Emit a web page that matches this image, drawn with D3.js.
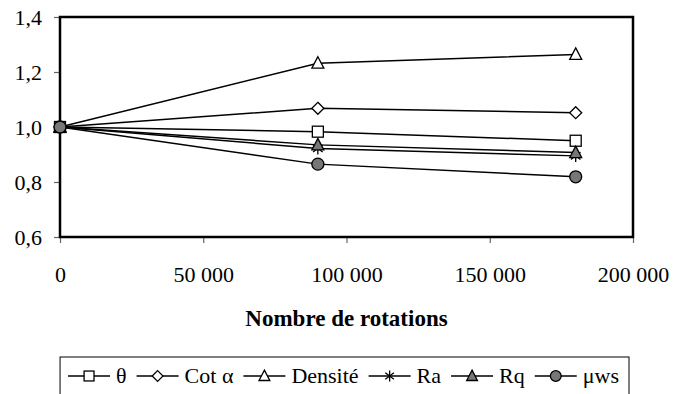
<!DOCTYPE html>
<html><head><meta charset="utf-8">
<script src="https://cdn.jsdelivr.net/npm/d3@7"></script>
<style>body{margin:0;background:#fff}svg{display:block}</style>
</head><body><svg id="c" width="675" height="394"></svg>
<script>
const xValues = [0, 90000, 180000];
const seriesNames = ["θ", "Cot α", "Densité", "Ra", "Rq", "μws"];
const theta   = [1.0, 0.983, 0.950];
const cotA    = [1.0, 1.068, 1.052];
const densite = [1.0, 1.232, 1.264];
const ra      = [1.0, 0.922, 0.895];
const rq      = [1.0, 0.935, 0.907];
const muws    = [1.0, 0.865, 0.819];
const xTicks = [0, 50000, 100000, 150000, 200000];
const yTicks = [0.6, 0.8, 1.0, 1.2, 1.4];
const xTitle = "Nombre de rotations";

const FONT = "Liberation Serif";

const series = [
  {name: seriesNames[0], values: theta, marker: "square"},
  {name: seriesNames[1], values: cotA, marker: "diamond"},
  {name: seriesNames[2], values: densite, marker: "triangle"},
  {name: seriesNames[3], values: ra, marker: "star"},
  {name: seriesNames[4], values: rq, marker: "triangleFill"},
  {name: seriesNames[5], values: muws, marker: "circle"}
];

const L = 60, R = 633, T = 17, B = 237;
const svg = d3.select("#c");
const x = d3.scaleLinear().domain([0, 200000]).range([L, R]);
const y = d3.scaleLinear().domain([0.6, 1.4]).range([B, T]);
const fmtX = d => d3.format(",")(d).replace(/,/g, " ");
const fmtY = d => d3.format(".1f")(d).replace(".", ",");

const gx = svg.append("g").attr("transform", `translate(0,${B})`)
  .call(d3.axisBottom(x).tickValues(xTicks).tickFormat(fmtX).tickSize(6).tickPadding(23));
const gy = svg.append("g").attr("transform", `translate(${L},0)`)
  .call(d3.axisLeft(y).tickValues(yTicks).tickFormat(fmtY).tickSize(6).tickPadding(12));
[gx, gy].forEach(g => {
  g.attr("font-family", null).attr("font-size", null);
  g.select(".domain").remove();
  g.selectAll(".tick line").attr("stroke", "#666").attr("stroke-width", 1.2);
  g.selectAll(".tick text").attr("fill", "#000").style("font-family", FONT).style("font-size", "22px");
});

svg.append("rect").attr("x", L).attr("y", T).attr("width", R - L).attr("height", B - T)
  .attr("fill", "none").attr("stroke", "#000").attr("stroke-width", 2.5);

svg.append("text").attr("x", (L + R) / 2).attr("y", 326).attr("text-anchor", "middle")
  .style("font-family", FONT).style("font-size", "23px").style("font-weight", "bold").text(xTitle);

function drawMarker(g, type, cx, cy, s) {
  s = s || 1;
  if (type === "square") {
    g.append("rect").attr("x", cx - 5.5*s).attr("y", cy - 5.5*s).attr("width", 11*s).attr("height", 11*s)
      .attr("fill", "#fff").attr("stroke", "#000").attr("stroke-width", 1.3);
  } else if (type === "diamond") {
    g.append("path").attr("d", `M${cx},${cy-6*s}L${cx+6*s},${cy}L${cx},${cy+6*s}L${cx-6*s},${cy}Z`)
      .attr("fill", "#fff").attr("stroke", "#000").attr("stroke-width", 1.3);
  } else if (type === "triangle" || type === "triangleFill") {
    g.append("path").attr("d", `M${cx},${cy-6.5*s}L${cx+6*s},${cy+5*s}L${cx-6*s},${cy+5*s}Z`)
      .attr("fill", type === "triangle" ? "#fff" : "#777").attr("stroke", "#000").attr("stroke-width", 1.3);
  } else if (type === "star") {
    const r = 6*s;
    g.append("path").attr("d",
      `M${cx},${cy-r}L${cx},${cy+r}` +
      `M${cx-r*0.8},${cy-r*0.6}L${cx+r*0.8},${cy+r*0.6}M${cx-r*0.8},${cy+r*0.6}L${cx+r*0.8},${cy-r*0.6}`)
      .attr("stroke", "#000").attr("stroke-width", 1.3).attr("fill", "none");
  } else if (type === "circle") {
    g.append("circle").attr("cx", cx).attr("cy", cy).attr("r", 6*s)
      .attr("fill", "#777").attr("stroke", "#000").attr("stroke-width", 1.3);
  }
}

const line = d3.line().x((d, i) => x(xValues[i])).y(d => y(d));
const plot = svg.append("g");
series.forEach(s => {
  plot.append("path").datum(s.values).attr("d", line).attr("fill", "none")
    .attr("stroke", "#000").attr("stroke-width", 1.5);
});
series.forEach(s => {
  const g = plot.append("g");
  s.values.forEach((v, i) => drawMarker(g, s.marker, x(xValues[i]), y(v)));
});

// legend
const lg = svg.append("g");
const ly0 = 357, lh = 44;
const lcy = 376;
let cx = 8;
series.forEach(s => {
  const g = lg.append("g");
  g.append("line").attr("x1", cx).attr("x2", cx + 42).attr("y1", lcy).attr("y2", lcy)
    .attr("stroke", "#000").attr("stroke-width", 1.3);
  drawMarker(g, s.marker, cx + 21, lcy, 0.9);
  const t = g.append("text").attr("x", cx + 48).attr("y", 383)
    .style("font-family", FONT).style("font-size", "22px").text(s.name);
  cx += 48 + t.node().getComputedTextLength() + 10;
});
const legW = cx;
const lx0 = 629 - legW;
lg.attr("transform", `translate(${lx0},0)`);
lg.insert("rect", ":first-child").attr("x", 0).attr("y", ly0).attr("width", legW).attr("height", lh)
  .attr("fill", "#fff").attr("stroke", "#000").attr("stroke-width", 1);
</script></body></html>
